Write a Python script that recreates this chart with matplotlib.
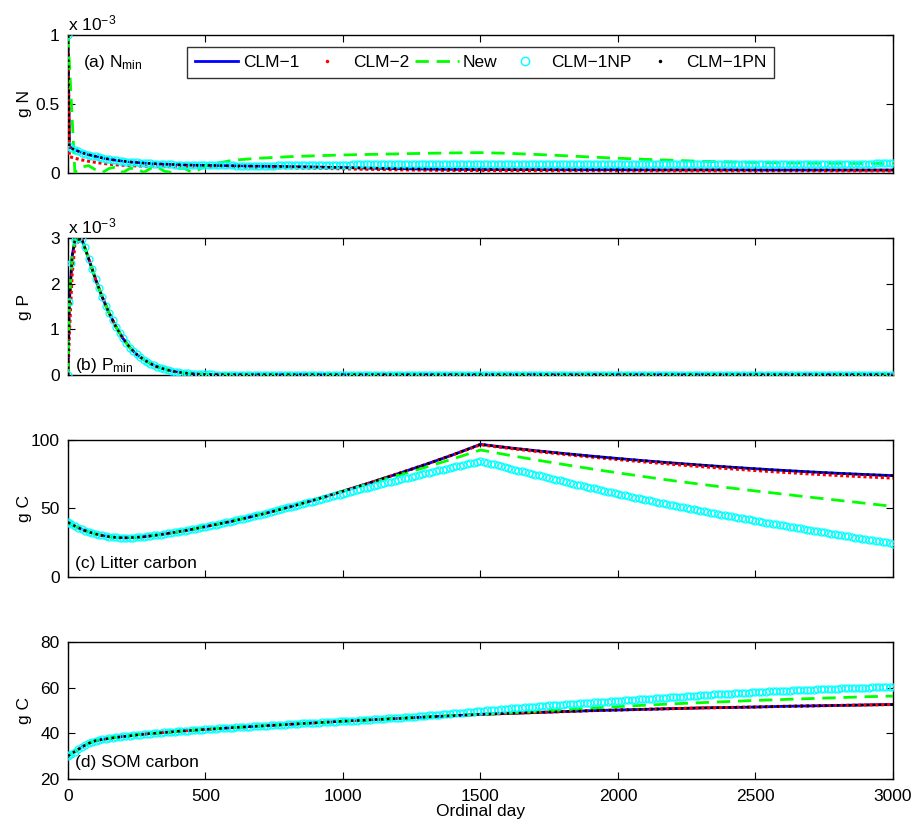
import matplotlib
matplotlib.use('Agg')
import matplotlib.pyplot as plt
from matplotlib.lines import Line2D

plt.rcParams['font.family'] = ['Liberation Sans', 'DejaVu Sans']
plt.rcParams['mathtext.fontset'] = 'custom'
plt.rcParams['mathtext.rm'] = 'Liberation Sans'
plt.rcParams['mathtext.it'] = 'Liberation Sans:italic'
plt.rcParams['font.size'] = 12.5

# ---- sampling days ----
days_line = [0, 5, 15, 25, 50, 75, 100, 125, 150, 175, 200, 225, 250, 275, 300,
             325, 350, 375, 400, 425, 450, 475, 500,
             600, 700, 800, 900, 1000, 1100, 1200, 1300, 1400, 1500,
             1600, 1700, 1800, 1900, 2000, 2100, 2200, 2300, 2400, 2500,
             2600, 2700, 2800, 2900, 3000]
# CLM-1NP output is written every 12.5 days
days_np = [0, 5] + [12.5 * k for k in range(1, 241)]

# ---- (a) N_min, x 1e-3 g N ----
nmin_clm1 = [1.0, 0.19, 0.175, 0.165, 0.145, 0.13, 0.118, 0.106, 0.097, 0.089, 0.083,
             0.077, 0.073, 0.069, 0.066, 0.063, 0.061, 0.059, 0.057, 0.055, 0.054, 0.053, 0.052,
             0.049, 0.046, 0.043, 0.040, 0.036, 0.032, 0.028, 0.025, 0.023, 0.022,
             0.021, 0.021, 0.020, 0.020, 0.020, 0.019, 0.019, 0.019, 0.019, 0.018,
             0.018, 0.018, 0.018, 0.018, 0.018]
nmin_clm2 = [1.0, 0.116, 0.11, 0.104, 0.092, 0.082, 0.074, 0.067, 0.061, 0.056, 0.053,
             0.050, 0.048, 0.046, 0.045, 0.044, 0.044, 0.043, 0.043, 0.042, 0.042, 0.042, 0.041,
             0.040, 0.037, 0.034, 0.031, 0.027, 0.023, 0.020, 0.017, 0.015, 0.014,
             0.013, 0.013, 0.013, 0.013, 0.012, 0.012, 0.012, 0.012, 0.012, 0.012,
             0.012, 0.012, 0.012, 0.012, 0.012]
nmin_new = [1.0, 0.8, 0.4, 0.0, 0.04, 0.05, 0.02, 0.0, 0.03, 0.04, 0.0,
            0.03, 0.03, 0.0, 0.03, 0.04, 0.01, 0.0, 0.03, 0.03, 0.0, 0.02, 0.05,
            0.09, 0.105, 0.115, 0.122, 0.128, 0.132, 0.136, 0.14, 0.143, 0.145,
            0.14, 0.132, 0.123, 0.113, 0.104, 0.096, 0.089, 0.082, 0.077, 0.073,
            0.07, 0.068, 0.067, 0.066, 0.066]
nmin_np = [1.0, 0.19,
           # 12.5 .. 150
           0.178, 0.165, 0.155, 0.145, 0.137, 0.130, 0.124, 0.118, 0.112, 0.106, 0.101, 0.097,
           # 162.5 .. 300
           0.093, 0.089, 0.086, 0.083, 0.080, 0.077, 0.075, 0.073, 0.071, 0.069, 0.0675, 0.066,
           # 312.5 .. 450
           0.0645, 0.063, 0.062, 0.061, 0.060, 0.059, 0.058, 0.057, 0.056, 0.055, 0.0545, 0.054,
           # 462.5 .. 600
           0.0535, 0.053, 0.0525, 0.052, 0.052, 0.052, 0.052, 0.052, 0.0515, 0.0515, 0.0515, 0.0515,
           # 612.5 .. 750
           0.051, 0.051, 0.051, 0.051, 0.051, 0.051, 0.051, 0.051, 0.051, 0.051, 0.051, 0.051,
           # 762.5 .. 900
           0.0515, 0.0515, 0.052, 0.052, 0.0525, 0.053, 0.0533, 0.0536, 0.054, 0.0543, 0.0546, 0.055,
           # 912.5 .. 1050
           0.0553, 0.0556, 0.056, 0.0563, 0.0566, 0.057, 0.0573, 0.0576, 0.058, 0.0583, 0.0586, 0.059,
           # 1062.5 .. 1200
           0.0593, 0.0596, 0.060, 0.0603, 0.0606, 0.061, 0.0613, 0.0616, 0.062, 0.0623, 0.0626, 0.063,
           # 1212.5 .. 1350
           0.0632, 0.0634, 0.0636, 0.0638, 0.064, 0.0642, 0.0643, 0.0644, 0.0645, 0.0646, 0.0647, 0.0648,
           # 1362.5 .. 1500
           0.0649, 0.065, 0.065, 0.065, 0.065, 0.065, 0.065, 0.065, 0.065, 0.065, 0.065, 0.065,
           # 1512.5 .. 1650
           0.065, 0.065, 0.065, 0.065, 0.065, 0.065, 0.065, 0.065, 0.065, 0.065, 0.065, 0.065,
           # 1662.5 .. 1800
           0.065, 0.065, 0.065, 0.065, 0.065, 0.065, 0.065, 0.065, 0.065, 0.065, 0.065, 0.065,
           # 1812.5 .. 1950
           0.065, 0.065, 0.065, 0.065, 0.065, 0.065, 0.065, 0.065, 0.065, 0.065, 0.065, 0.065,
           # 1962.5 .. 2100
           0.065, 0.065, 0.065, 0.065, 0.065, 0.065, 0.065, 0.065, 0.065, 0.065, 0.065, 0.065,
           # 2112.5 .. 2250
           0.065, 0.065, 0.065, 0.065, 0.065, 0.065, 0.065, 0.065, 0.065, 0.065, 0.065, 0.065,
           # 2262.5 .. 2400
           0.065, 0.065, 0.065, 0.065, 0.065, 0.065, 0.065, 0.065, 0.065, 0.065, 0.065, 0.065,
           # 2412.5 .. 2550
           0.065, 0.065, 0.065, 0.065, 0.065, 0.065, 0.065, 0.065, 0.065, 0.065, 0.065, 0.065,
           # 2562.5 .. 2700
           0.065, 0.065, 0.065, 0.065, 0.065, 0.065, 0.065, 0.065, 0.065, 0.065, 0.065, 0.065,
           # 2712.5 .. 2850
           0.065, 0.065, 0.065, 0.065, 0.065, 0.065, 0.065, 0.065, 0.065, 0.065, 0.065, 0.065,
           # 2862.5 .. 3000
           0.065, 0.065, 0.065, 0.065, 0.065, 0.065, 0.066, 0.066, 0.066, 0.066, 0.066, 0.066]

# ---- (b) P_min, x 1e-3 g P ----
pmin_clm1 = [0.0, 1.6, 2.6, 2.95, 2.98, 2.55, 2.1, 1.7, 1.35, 1.05, 0.8,
             0.6, 0.45, 0.34, 0.25, 0.18, 0.13, 0.09, 0.065, 0.045, 0.03, 0.02, 0.015,
             0.01, 0.01, 0.01, 0.01, 0.01, 0.01, 0.01, 0.01, 0.01, 0.01,
             0.01, 0.01, 0.01, 0.01, 0.01, 0.01, 0.01, 0.01, 0.01, 0.01,
             0.01, 0.01, 0.01, 0.01, 0.01]
pmin_clm2 = [0.0, 0.9, 2.2, 2.85] + pmin_clm1[4:]
pmin_np = [0.0, 1.6,
           # 12.5 .. 150
           2.45, 2.95, 3.0, 2.98, 2.8, 2.55, 2.32, 2.1, 1.9, 1.7, 1.52, 1.35,
           # 162.5 .. 300
           1.2, 1.05, 0.92, 0.8, 0.7, 0.6, 0.52, 0.45, 0.39, 0.34, 0.29, 0.25,
           # 312.5 .. 450
           0.215, 0.18, 0.155, 0.13, 0.11, 0.09, 0.077, 0.065, 0.055, 0.045, 0.037, 0.03,
           # 462.5 .. 600
           0.025, 0.02, 0.017, 0.015, 0.013, 0.012, 0.011, 0.01, 0.01, 0.01, 0.01, 0.01,
           # 612.5 .. 750
           0.01, 0.01, 0.01, 0.01, 0.01, 0.01, 0.01, 0.01, 0.01, 0.01, 0.01, 0.01,
           # 762.5 .. 900
           0.01, 0.01, 0.01, 0.01, 0.01, 0.01, 0.01, 0.01, 0.01, 0.01, 0.01, 0.01,
           # 912.5 .. 1050
           0.01, 0.01, 0.01, 0.01, 0.01, 0.01, 0.01, 0.01, 0.01, 0.01, 0.01, 0.01,
           # 1062.5 .. 1200
           0.01, 0.01, 0.01, 0.01, 0.01, 0.01, 0.01, 0.01, 0.01, 0.01, 0.01, 0.01,
           # 1212.5 .. 1350
           0.01, 0.01, 0.01, 0.01, 0.01, 0.01, 0.01, 0.01, 0.01, 0.01, 0.01, 0.01,
           # 1362.5 .. 1500
           0.01, 0.01, 0.01, 0.01, 0.01, 0.01, 0.01, 0.01, 0.01, 0.01, 0.01, 0.01,
           # 1512.5 .. 1650
           0.01, 0.01, 0.01, 0.01, 0.01, 0.01, 0.01, 0.01, 0.01, 0.01, 0.01, 0.01,
           # 1662.5 .. 1800
           0.01, 0.01, 0.01, 0.01, 0.01, 0.01, 0.01, 0.01, 0.01, 0.01, 0.01, 0.01,
           # 1812.5 .. 1950
           0.01, 0.01, 0.01, 0.01, 0.01, 0.01, 0.01, 0.01, 0.01, 0.01, 0.01, 0.01,
           # 1962.5 .. 2100
           0.01, 0.01, 0.01, 0.01, 0.01, 0.01, 0.01, 0.01, 0.01, 0.01, 0.01, 0.01,
           # 2112.5 .. 2250
           0.01, 0.01, 0.01, 0.01, 0.01, 0.01, 0.01, 0.01, 0.01, 0.01, 0.01, 0.01,
           # 2262.5 .. 2400
           0.01, 0.01, 0.01, 0.01, 0.01, 0.01, 0.01, 0.01, 0.01, 0.01, 0.01, 0.01,
           # 2412.5 .. 2550
           0.01, 0.01, 0.01, 0.01, 0.01, 0.01, 0.01, 0.01, 0.01, 0.01, 0.01, 0.01,
           # 2562.5 .. 2700
           0.01, 0.01, 0.01, 0.01, 0.01, 0.01, 0.01, 0.01, 0.01, 0.01, 0.01, 0.01,
           # 2712.5 .. 2850
           0.01, 0.01, 0.01, 0.01, 0.01, 0.01, 0.01, 0.01, 0.01, 0.01, 0.01, 0.01,
           # 2862.5 .. 3000
           0.01, 0.01, 0.01, 0.01, 0.01, 0.01, 0.01, 0.01, 0.01, 0.01, 0.01, 0.01]

# ---- (c) litter carbon, g C ----
litter_clm1 = [40.0, 39.3, 38.2, 37.2, 34.8, 32.9, 31.4, 30.3, 29.4, 28.9, 28.6,
               28.7, 29.0, 29.4, 30.0, 30.7, 31.4, 32.2, 33.0, 33.9, 34.8, 35.8, 36.8,
               40.9, 45.6, 50.8, 56.5, 62.6, 68.9, 75.4, 82.1, 89.2, 96.8,
               94.4, 92.2, 90.2, 88.3, 86.5, 84.8, 83.2, 81.7, 80.3, 79.0,
               77.8, 76.7, 75.7, 74.8, 74.0]
litter_clm2 = litter_clm1[:32] + [96.5,
               94.0, 91.7, 89.6, 87.6, 85.7, 83.9, 82.2, 80.6, 79.1, 77.7,
               76.4, 75.2, 74.1, 73.1, 72.2]
litter_new = litter_clm1[:28] + [68.4, 74.2, 80.1, 86.2, 92.7,
              89.0, 85.5, 82.2, 79.0, 76.0, 73.1, 70.3, 67.7, 65.2, 62.8,
              60.5, 58.2, 56.0, 53.8, 51.5]
litter_np = [40.0, 39.3,
             38.5, 37.2, 36.0, 34.8, 33.8, 32.9, 32.1, 31.4, 30.8, 30.3, 29.8, 29.4,
             29.1, 28.9, 28.7, 28.6, 28.6, 28.7, 28.8, 29.0, 29.2, 29.4, 29.7, 30.0,
             30.3, 30.7, 31.0, 31.4, 31.8, 32.2, 32.6, 33.0, 33.4, 33.9, 34.3, 34.8,
             35.3, 35.8, 36.3, 36.8, 37.3, 37.8, 38.3, 38.8, 39.3, 39.8, 40.3, 40.9,
             41.4, 42.0, 42.6, 43.2, 43.8, 44.4, 45.0, 45.6, 46.2, 46.8, 47.4, 48.1,
             48.7, 49.4, 50.1, 50.8, 51.4, 52.0, 52.6, 53.2, 53.8, 54.4, 55.0, 55.7,
             56.3, 57.0, 57.6, 58.2, 58.8, 59.5, 60.1, 60.8, 61.4, 62.0, 62.7, 63.3,
             64.0, 64.6, 65.2, 65.9, 66.5, 67.1, 67.8, 68.4, 69.0, 69.6, 70.3, 70.9,
             71.5, 72.0, 72.6, 73.2, 73.8, 74.4, 75.0, 75.6, 76.1, 76.7, 77.3, 77.9,
             78.4, 79.0, 79.6, 80.2, 80.7, 81.2, 81.8, 82.4, 82.9, 83.5, 84.1, 84.7,
             84.0, 83.4, 82.8, 82.2, 81.5, 80.9, 80.2, 79.6, 79.0, 78.4, 77.7, 77.1,
             76.5, 75.9, 75.3, 74.7, 74.1, 73.5, 72.9, 72.3, 71.7, 71.1, 70.5, 69.9,
             69.3, 68.7, 68.1, 67.5, 67.0, 66.4, 65.8, 65.2, 64.6, 64.1, 63.5, 62.9,
             62.3, 61.8, 61.2, 60.7, 60.1, 59.6, 59.0, 58.5, 58.0, 57.5, 56.9, 56.4,
             55.9, 55.4, 54.8, 54.3, 53.8, 53.3, 52.8, 52.3, 51.8, 51.3, 50.8, 50.3,
             49.9, 49.4, 48.9, 48.4, 47.9, 47.5, 47.0, 46.5, 46.0, 45.6, 45.1, 44.7,
             44.2, 43.8, 43.3, 42.9, 42.4, 42.0, 41.5, 41.1, 40.6, 40.2, 39.7, 39.3,
             38.9, 38.5, 38.0, 37.6, 37.1, 36.7, 36.3, 35.9, 35.4, 35.0, 34.6, 34.2,
             33.8, 33.4, 32.9, 32.5, 32.1, 31.7, 31.3, 30.9, 30.5, 30.1, 29.6, 29.2,
             28.8, 28.4, 28.0, 27.6, 27.2, 26.8, 26.4, 26.0, 25.6, 25.2, 24.8, 24.4]

# ---- (d) SOM carbon, g C ----
som_clm1 = [30.0, 30.5, 31.3, 32.0, 34.0, 35.6, 36.8, 37.3, 37.8, 38.2, 38.6,
            38.9, 39.3, 39.6, 39.9, 40.1, 40.4, 40.6, 40.9, 41.1, 41.3, 41.5, 41.7,
            42.5, 43.2, 43.9, 44.6, 45.3, 45.9, 46.5, 47.1, 47.7, 48.3,
            48.7, 49.1, 49.5, 49.9, 50.2, 50.5, 50.8, 51.1, 51.3, 51.5,
            51.8, 52.0, 52.2, 52.4, 52.6]
som_new = som_clm1[:33] + [48.9, 49.6, 50.3, 51.0, 51.7, 52.3, 52.9, 53.4, 53.9, 54.4,
                           54.8, 55.2, 55.6, 56.0, 56.3]
som_np = [30.0, 30.5,
          31.1, 32.0, 33.0, 34.0, 34.8, 35.6, 36.2, 36.8, 37.05, 37.3, 37.55, 37.8,
          38.0, 38.2, 38.4, 38.6, 38.75, 38.9, 39.1, 39.3, 39.45, 39.6, 39.75, 39.9,
          40.0, 40.1, 40.25, 40.4, 40.5, 40.6, 40.75, 40.9, 41.0, 41.1, 41.2, 41.3,
          41.4, 41.5, 41.6, 41.7, 41.8, 41.9, 42.0, 42.1, 42.2, 42.3, 42.4, 42.5,
          42.6, 42.7, 42.8, 42.9, 42.95, 43.0, 43.1, 43.2, 43.3, 43.4, 43.5, 43.6,
          43.65, 43.7, 43.8, 43.9, 44.0, 44.1, 44.2, 44.3, 44.35, 44.4, 44.5, 44.6,
          44.7, 44.8, 44.9, 45.0, 45.05, 45.1, 45.2, 45.3, 45.4, 45.5, 45.55, 45.6,
          45.7, 45.8, 45.9, 46.0, 46.1, 46.2, 46.3, 46.4, 46.5, 46.6, 46.7, 46.8,
          46.9, 47.0, 47.1, 47.2, 47.3, 47.4, 47.55, 47.7, 47.8, 47.9, 48.05, 48.2,
          48.3, 48.4, 48.55, 48.7, 48.85, 49.0, 49.1, 49.2, 49.35, 49.5, 49.65, 49.8,
          49.9, 50.0, 50.15, 50.3, 50.4, 50.5, 50.65, 50.8, 50.9, 51.0, 51.1, 51.2,
          51.35, 51.5, 51.6, 51.7, 51.8, 51.9, 52.05, 52.2, 52.3, 52.4, 52.5, 52.6,
          52.7, 52.8, 52.9, 53.0, 53.1, 53.2, 53.3, 53.4, 53.5, 53.6, 53.7, 53.8,
          53.9, 54.0, 54.1, 54.2, 54.3, 54.4, 54.5, 54.6, 54.7, 54.8, 54.9, 55.0,
          55.1, 55.2, 55.3, 55.4, 55.5, 55.6, 55.7, 55.8, 55.9, 56.0, 56.1, 56.2,
          56.3, 56.4, 56.5, 56.6, 56.7, 56.8, 56.9, 57.0, 57.05, 57.1, 57.2, 57.3,
          57.4, 57.5, 57.6, 57.7, 57.75, 57.8, 57.9, 58.0, 58.05, 58.1, 58.2, 58.3,
          58.35, 58.4, 58.5, 58.6, 58.65, 58.7, 58.8, 58.9, 58.95, 59.0, 59.05, 59.1,
          59.15, 59.2, 59.3, 59.4, 59.45, 59.5, 59.55, 59.6, 59.65, 59.7, 59.75, 59.8,
          59.85, 59.9, 59.95, 60.0, 60.05, 60.1, 60.15, 60.2, 60.25, 60.3, 60.35, 60.4]

panels = [
    dict(clm1=nmin_clm1, clm2=nmin_clm2, new=nmin_new, np_=nmin_np, pn=nmin_clm1,
         ylim=(0, 1), yticks=[0, 0.5, 1], yticklabels=['0', '0.5', '1'], ylabel='g N',
         tag=r'(a) N$_{\mathrm{min}}$', tagpos=(0.018, 0.80), scale=True),
    dict(clm1=pmin_clm1, clm2=pmin_clm2, new=pmin_clm1, np_=pmin_np, pn=pmin_clm1,
         ylim=(0, 3), yticks=[0, 1, 2, 3], yticklabels=['0', '1', '2', '3'], ylabel='g P',
         tag=r'(b) P$_{\mathrm{min}}$', tagpos=(0.009, 0.07), scale=True),
    dict(clm1=litter_clm1, clm2=litter_clm2, new=litter_new, np_=litter_np, pn=litter_clm1,
         ylim=(0, 100), yticks=[0, 50, 100], yticklabels=['0', '50', '100'], ylabel='g C',
         tag='(c) Litter carbon', tagpos=(0.008, 0.10), scale=False),
    dict(clm1=som_clm1, clm2=som_clm1, new=som_new, np_=som_np, pn=som_clm1,
         ylim=(20, 80), yticks=[20, 40, 60, 80], yticklabels=['20', '40', '60', '80'], ylabel='g C',
         tag='(d) SOM carbon', tagpos=(0.009, 0.12), scale=False),
]

blue, red, green, cyan = '#0000ff', '#ff0000', '#00ff00', '#00ffff'

fig = plt.figure(figsize=(9.14, 8.23), dpi=100)
bottoms = [0.7904, 0.5443, 0.2989, 0.0535]

for i, p in enumerate(panels):
    ax = fig.add_axes([0.0744, bottoms[i], 0.9026, 0.1665])
    ax.plot(days_line, p['clm1'], color=blue, lw=2, zorder=2)
    ax.plot(days_line, p['clm2'], color=red, lw=2.2, ls=(0, (1, 0.9)), zorder=3)
    ax.plot(days_line, p['new'], color=green, lw=2, ls=(0, (4.8, 2.8)), zorder=4)
    ax.plot(days_np, p['np_'], color=cyan, ls='none', marker='o', mfc='none',
            mec=cyan, ms=5, mew=0.9, zorder=5)
    ax.plot(days_line, p['pn'], color='k', lw=1.8, ls=(0, (1, 1.4)), zorder=6)

    ax.set_xlim(0, 3000)
    ax.set_ylim(*p['ylim'])
    ax.set_xticks([0, 500, 1000, 1500, 2000, 2500, 3000])
    ax.set_yticks(p['yticks'])
    ax.set_yticklabels(p['yticklabels'])
    ax.tick_params(direction='in', top=True, right=True, length=5, width=0.8)
    ax.tick_params(axis='x', pad=7)
    ax.tick_params(axis='y', pad=6)
    if i < 3:
        ax.set_xticklabels([])
    else:
        ax.set_xlabel('Ordinal day', labelpad=0)
    for s in ax.spines.values():
        s.set_linewidth(1.0)
    ax.set_ylabel(p['ylabel'])
    ax.yaxis.set_label_coords(-0.044, 0.5)
    ax.text(p['tagpos'][0], p['tagpos'][1], p['tag'], transform=ax.transAxes,
            ha='left', va='center', zorder=10)
    if p['scale']:
        ax.text(0.0, 1.015, r'x 10$^{-3}$', transform=ax.transAxes,
                ha='left', va='bottom')

    if i == 0:
        handles = [
            Line2D([], [], color=blue, lw=2),
            Line2D([], [], color=red, ls='none', marker='.', ms=3),
            Line2D([], [], color=green, lw=2, ls=(0, (4.8, 2.8))),
            Line2D([], [], color=cyan, ls='none', marker='o', mfc='none', ms=6),
            Line2D([], [], color='k', ls='none', marker='.', ms=3),
        ]
        labels = ['CLM\u22121', 'CLM\u22122', 'New', 'CLM\u22121NP', 'CLM\u22121PN']
        leg = ax.legend(handles, labels, loc='upper center', bbox_to_anchor=(0.5, 0.915),
                        ncol=5, frameon=True, fancybox=False, handlelength=2.5,
                        handletextpad=0.25, columnspacing=0.35, borderpad=0.45,
                        borderaxespad=0, fontsize=12.5)
        leg.get_frame().set_edgecolor('k')
        leg.get_frame().set_linewidth(1.0)
        leg.set_zorder(20)

fig.savefig('out.png', dpi=100)
